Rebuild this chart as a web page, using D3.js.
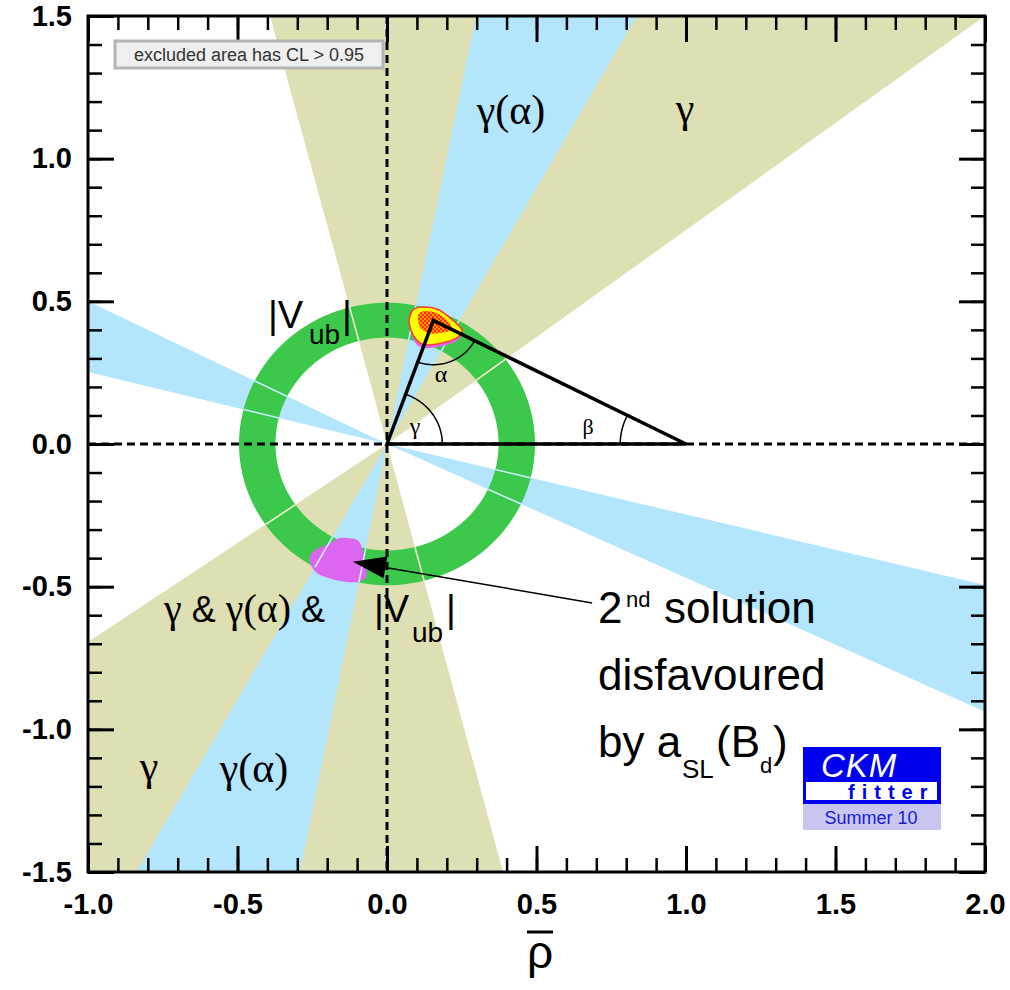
<!DOCTYPE html>
<html><head><meta charset="utf-8">
<script src="https://cdn.jsdelivr.net/npm/d3@7"></script>
<style>body{margin:0;background:#fff}svg{display:block}</style>
</head><body>
<svg id="c" width="1010" height="990"></svg>
<script>
// ---------- data (in rho-bar / eta-bar units) ----------
const xDomain = [-1.0, 2.0];
const yDomain = [-1.5, 1.5];
const xTickLabels = [-1.0, -0.5, 0.0, 0.5, 1.0, 1.5, 2.0];
const yTickLabels = [-1.5, -1.0, -0.5, 0.0, 0.5, 1.0, 1.5];
const xMinorTicks = [-1.0,-0.9,-0.8,-0.7,-0.6,-0.5,-0.4,-0.3,-0.2,-0.1,0.0,0.1,0.2,0.3,0.4,0.5,0.6,0.7,0.8,0.9,1.0,1.1,1.2,1.3,1.4,1.5,1.6,1.7,1.8,1.9,2.0];
const yMinorTicks = [-1.5,-1.4,-1.3,-1.2,-1.1,-1.0,-0.9,-0.8,-0.7,-0.6,-0.5,-0.4,-0.3,-0.2,-0.1,0.0,0.1,0.2,0.3,0.4,0.5,0.6,0.7,0.8,0.9,1.0,1.1,1.2,1.3,1.4,1.5];

// gamma (B -> DK) wedges
const gammaBands = [
  [[0,0],[-0.391,1.5],[2.0,1.5]],
  [[0,0],[-1.0,-0.694],[-1.0,-1.5],[0.388,-1.5]]
];
// gamma(alpha) wedges
const gammaAlphaBands = [
  [[0,0],[0.298,1.5],[0.836,1.5]],
  [[0,0],[-0.838,-1.5],[-0.291,-1.5]],
  [[0,0],[-1.0,0.500],[-1.0,0.252]],
  [[0,0],[2.0,-0.494],[2.0,-0.938]]
];
// |Vub| ring radii
const vubRing = [0.373, 0.495];

// second solution (pink)
const secondSolution = [
  [-0.258,-0.396],[-0.241,-0.372],[-0.191,-0.347],[-0.157,-0.329],[-0.107,-0.333],
  [-0.090,-0.347],[-0.080,-0.379],[-0.070,-0.431],[-0.070,-0.466],[-0.097,-0.484],
  [-0.157,-0.480],[-0.224,-0.459],[-0.251,-0.431]
];
// global fit region
const fitPink = [
  [0.076,0.425],[0.090,0.470],[0.122,0.480],[0.200,0.442],[0.248,0.396],
  [0.236,0.364],[0.196,0.346],[0.140,0.336],[0.106,0.342],[0.086,0.372]
];
const fitYellow = [
  [0.074,0.435],[0.087,0.470],[0.120,0.480],[0.167,0.473],[0.211,0.442],
  [0.251,0.400],[0.237,0.375],[0.201,0.358],[0.144,0.347],[0.110,0.354],
  [0.087,0.382],[0.077,0.410]
];
const fitCore = [
  [0.104,0.452],[0.127,0.466],[0.167,0.459],[0.204,0.431],[0.217,0.400],
  [0.177,0.389],[0.137,0.389],[0.110,0.410]
];
const apex = [0.155, 0.433];
const baseLeft = [0, 0], baseRight = [1, 0];
const arcRadii = {gamma: 0.185, alpha: 0.155, beta: 0.22};
const arrowFrom = [0.686, -0.557], arrowTo = [-0.114, -0.413];

// ---------- drawing ----------
const L = 88, R = 985, T = 16, B = 872;
const x = d3.scaleLinear().domain(xDomain).range([L, R]);
const y = d3.scaleLinear().domain(yDomain).range([B, T]);
const svg = d3.select('#c');
const SANS = "'Liberation Sans', Arial, Helvetica, sans-serif";
const SERIF = "'Liberation Serif', 'Times New Roman', serif";

const defs = svg.append('defs');
defs.append('clipPath').attr('id','plot').append('rect')
  .attr('x',L).attr('y',T).attr('width',R-L).attr('height',B-T);

const P = p => [x(p[0]), y(p[1])];
const polyLine = d3.line();
const blobLine = d3.line().curve(d3.curveCardinalClosed.tension(0.2));

function circlePts(cx, cy, r, a0, a1, n) {
  const pts = [];
  for (let i = 0; i <= n; i++) {
    const a = a0 + (a1 - a0) * i / n;
    pts.push(P([cx + r*Math.cos(a), cy + r*Math.sin(a)]));
  }
  return pts;
}
const ringPath = circlePts(0,0,vubRing[1],0,2*Math.PI,180).map((p,i)=>(i?'L':'M')+p).join('')+'Z'
               + circlePts(0,0,vubRing[0],0,2*Math.PI,180).map((p,i)=>(i?'L':'M')+p).join('')+'Z';

defs.append('clipPath').attr('id','ring').append('path')
  .attr('d', ringPath).attr('clip-rule','evenodd');

// core hatch pattern
const pat = defs.append('pattern').attr('id','hatch').attr('patternUnits','userSpaceOnUse')
  .attr('width',4).attr('height',4);
pat.append('rect').attr('width',4).attr('height',4).attr('fill','#ff9a00');
pat.append('rect').attr('width',2).attr('height',2).attr('fill','#ff2a10');
pat.append('rect').attr('x',2).attr('y',2).attr('width',2).attr('height',2).attr('fill','#ff2a10');

const plot = svg.append('g').attr('clip-path','url(#plot)');
plot.append('rect').attr('x',L).attr('y',T).attr('width',R-L).attr('height',B-T).attr('fill','#fff');

plot.selectAll('path.gamma').data(gammaBands).join('path').attr('class','gamma')
  .attr('d', d => polyLine(d.map(P)) + 'Z').attr('fill','#dfdfb4');
plot.selectAll('path.galpha').data(gammaAlphaBands).join('path').attr('class','galpha')
  .attr('d', d => polyLine(d.map(P)) + 'Z').attr('fill','#b3e6fc');

plot.append('path').attr('d', ringPath).attr('fill','#3cc84a').attr('fill-rule','evenodd');

plot.append('path').attr('d', blobLine(secondSolution.map(P))).attr('fill','#dd66f0');

// band edges visible over the ring
const edgeG = plot.append('g').attr('clip-path','url(#ring)');
gammaAlphaBands.forEach(b => {
  [b[1], b[b.length-1]].forEach(e => {
    edgeG.append('line').attr('x1',x(0)).attr('y1',y(0)).attr('x2',x(e[0])).attr('y2',y(e[1]))
      .attr('stroke','#c8efff').attr('stroke-width',1.6);
  });
});
gammaBands.forEach(b => {
  [b[1], b[b.length-1]].forEach(e => {
    edgeG.append('line').attr('x1',x(0)).attr('y1',y(0)).attr('x2',x(e[0])).attr('y2',y(e[1]))
      .attr('stroke','#eeeecc').attr('stroke-width',1.6);
  });
});

// global fit
plot.append('path').attr('d', blobLine(fitPink.map(P))).attr('fill','#dd66f0');
plot.append('path').attr('d', blobLine(fitYellow.map(P))).attr('fill','#ffff00')
  .attr('stroke','#ff3c3c').attr('stroke-width',1.6);
plot.append('path').attr('d', blobLine(fitCore.map(P))).attr('fill','url(#hatch)');

// dashed axes
plot.append('line').attr('x1',x(0)).attr('x2',x(0)).attr('y1',T).attr('y2',B)
  .attr('stroke','#000').attr('stroke-width',3).attr('stroke-dasharray','8,5');
plot.append('line').attr('x1',L).attr('x2',R).attr('y1',y(0)).attr('y2',y(0))
  .attr('stroke','#000').attr('stroke-width',3).attr('stroke-dasharray','8,5');

// triangle
plot.append('path').attr('d', polyLine([baseLeft, apex, baseRight].map(P)) + 'Z')
  .attr('fill','none').attr('stroke','#000').attr('stroke-width',3.5).attr('stroke-linejoin','miter');

// angle arcs
const ang = (from, to) => Math.atan2(to[1]-from[1], to[0]-from[0]);
const arcs = [
  [baseLeft, arcRadii.gamma, 0, ang(baseLeft, apex)],
  [apex, arcRadii.alpha, ang(apex, baseLeft), ang(apex, baseRight)],
  [baseRight, arcRadii.beta, ang(baseRight, apex), Math.PI]
];
arcs.forEach(([c, r, a0, a1]) => {
  plot.append('path').attr('d', d3.line()(circlePts(c[0], c[1], r, a0, a1, 60)))
    .attr('fill','none').attr('stroke','#000').attr('stroke-width',1.5);
});

// ---------- axes ----------
function styleAxis(g, w) {
  g.select('.domain').remove();
  g.selectAll('.tick line').attr('stroke','#000').attr('stroke-width', w);
}
const minorLen = -14, majorLen = -26;
svg.append('g').attr('transform',`translate(0,${B})`)
  .call(d3.axisBottom(x).tickValues(xMinorTicks).tickSize(minorLen).tickFormat(''))
  .call(g => styleAxis(g, 2.5));
svg.append('g').attr('transform',`translate(0,${T})`)
  .call(d3.axisTop(x).tickValues(xMinorTicks).tickSize(minorLen).tickFormat(''))
  .call(g => styleAxis(g, 2.5));
svg.append('g').attr('transform',`translate(${L},0)`)
  .call(d3.axisLeft(y).tickValues(yMinorTicks).tickSize(minorLen).tickFormat(''))
  .call(g => styleAxis(g, 2.5));
svg.append('g').attr('transform',`translate(${R},0)`)
  .call(d3.axisRight(y).tickValues(yMinorTicks).tickSize(minorLen).tickFormat(''))
  .call(g => styleAxis(g, 2.5));

const fmt = d => d.toFixed(1);
const xb = svg.append('g').attr('transform',`translate(0,${B})`)
  .call(d3.axisBottom(x).tickValues(xTickLabels).tickSizeInner(majorLen).tickSizeOuter(0).tickPadding(21).tickFormat(fmt))
  .call(g => styleAxis(g, 3));
svg.append('g').attr('transform',`translate(0,${T})`)
  .call(d3.axisTop(x).tickValues(xTickLabels).tickSizeInner(majorLen).tickSizeOuter(0).tickFormat(''))
  .call(g => styleAxis(g, 3));
const yl = svg.append('g').attr('transform',`translate(${L},0)`)
  .call(d3.axisLeft(y).tickValues(yTickLabels).tickSizeInner(majorLen).tickSizeOuter(0).tickPadding(16).tickFormat(fmt))
  .call(g => styleAxis(g, 3));
svg.append('g').attr('transform',`translate(${R},0)`)
  .call(d3.axisRight(y).tickValues(yTickLabels).tickSizeInner(majorLen).tickSizeOuter(0).tickFormat(''))
  .call(g => styleAxis(g, 3));
[xb, yl].forEach(g => g.selectAll('text').attr('font-family',SANS).attr('font-weight','bold')
  .attr('font-size','29px').attr('fill','#000'));

// frame
svg.append('rect').attr('x',L).attr('y',T).attr('width',R-L).attr('height',B-T)
  .attr('fill','none').attr('stroke','#000').attr('stroke-width',3);

// axis title rho-bar
svg.append('text').attr('x',540).attr('y',968).attr('text-anchor','middle')
  .attr('font-family',SANS).attr('font-size','46px').text('ρ');
svg.append('line').attr('x1',527).attr('x2',553).attr('y1',932).attr('y2',932)
  .attr('stroke','#000').attr('stroke-width',3);

// ---------- labels ----------
function label(px, py, parts, anchor) {
  const t = svg.append('text').attr('x',px).attr('y',py).attr('text-anchor',anchor||'start');
  parts.forEach(p => {
    const s = t.append('tspan').text(p.t).attr('font-family', p.f || SANS).attr('font-size', p.s + 'px');
    if (p.x !== undefined) s.attr('x', p.x);
    if (p.y !== undefined) s.attr('y', p.y);
  });
  return t;
}
// angle symbols
label(415, 434, [{t:'γ', f:SERIF, s:24}], 'middle');
label(441, 382, [{t:'α', f:SERIF, s:24}], 'middle');
label(588, 434, [{t:'β', f:SERIF, s:22}], 'middle');

// region labels
label(511, 124, [{t:'γ(α)', f:SERIF, s:42}], 'middle');
label(685, 122, [{t:'γ', f:SERIF, s:42}], 'middle');
label(149, 780, [{t:'γ', f:SERIF, s:42}], 'middle');
label(254, 782, [{t:'γ(α)', f:SERIF, s:42}], 'middle');

// |Vub| top
label(268, 328, [{t:'|V', s:38}, {t:'ub', s:28, x:309, y:344}, {t:'|', s:38, x:342, y:328}]);
// bottom combined
label(164, 622, [
  {t:'γ', f:SERIF, s:40}, {t:' & ', s:36}, {t:'γ(α)', f:SERIF, s:40}, {t:' & ', s:36},
  {t:'|V', s:38, x:374}, {t:'ub', s:28, x:412, y:642}, {t:'|', s:38, x:446, y:622}
]);

// annotation
label(598, 623, [{t:'2', s:44}, {t:'nd', s:22, x:626, y:607}, {t:'solution', s:44, x:664, y:623}]);
label(598, 690, [{t:'disfavoured', s:44}]);
label(598, 757, [{t:'by a', s:44}, {t:'SL', s:26, x:682, y:778}, {t:'(B', s:44, x:716, y:757},
                 {t:'d', s:22, x:760, y:773}, {t:')', s:44, x:773, y:757}]);

// arrow
{
  const s = P(arrowFrom), e = P(arrowTo);
  const dx = s[0]-e[0], dy = s[1]-e[1], len = Math.hypot(dx, dy);
  const ux = dx/len, uy = dy/len, hl = 33, hw = 11;
  const bx = e[0] + ux*hl, by = e[1] + uy*hl;
  svg.append('line').attr('x1',s[0]).attr('y1',s[1]).attr('x2',bx).attr('y2',by)
    .attr('stroke','#000').attr('stroke-width',1.5);
  svg.append('path').attr('d', d3.line()([e, [bx - uy*hw, by + ux*hw], [bx + uy*hw, by - ux*hw]]) + 'Z')
    .attr('fill','#000');
}

// legend box
svg.append('rect').attr('x',115).attr('y',41).attr('width',268).attr('height',27)
  .attr('fill','#efefef').attr('stroke','#b4b4b4').attr('stroke-width',3);
svg.append('text').attr('x',249).attr('y',61).attr('text-anchor','middle')
  .attr('font-family',SANS).attr('font-size','18px').attr('fill','#333')
  .text('excluded area has CL > 0.95');

// CKMfitter logo
svg.append('rect').attr('x',803).attr('y',747).attr('width',138).attr('height',57).attr('fill','#0000f0');
svg.append('rect').attr('x',806).attr('y',782).attr('width',131).attr('height',18).attr('fill','#fff');
svg.append('rect').attr('x',803).attr('y',804).attr('width',138).attr('height',26).attr('fill','#c6c6f0');
svg.append('text').attr('x',821).attr('y',777).attr('font-family',SANS).attr('font-style','italic')
  .attr('font-size','33px').attr('fill','#fff').attr('letter-spacing','1px').text('CKM');
svg.append('text').attr('x',848).attr('y',799).attr('font-family',SANS).attr('font-weight','bold')
  .attr('font-size','20px').attr('letter-spacing','7px').attr('fill','#0000f0').text('fitter');
svg.append('text').attr('x',871).attr('y',824).attr('text-anchor','middle').attr('font-family',SANS)
  .attr('font-size','18px').attr('fill','#1a1ad8').text('Summer 10');
</script>
</body></html>
